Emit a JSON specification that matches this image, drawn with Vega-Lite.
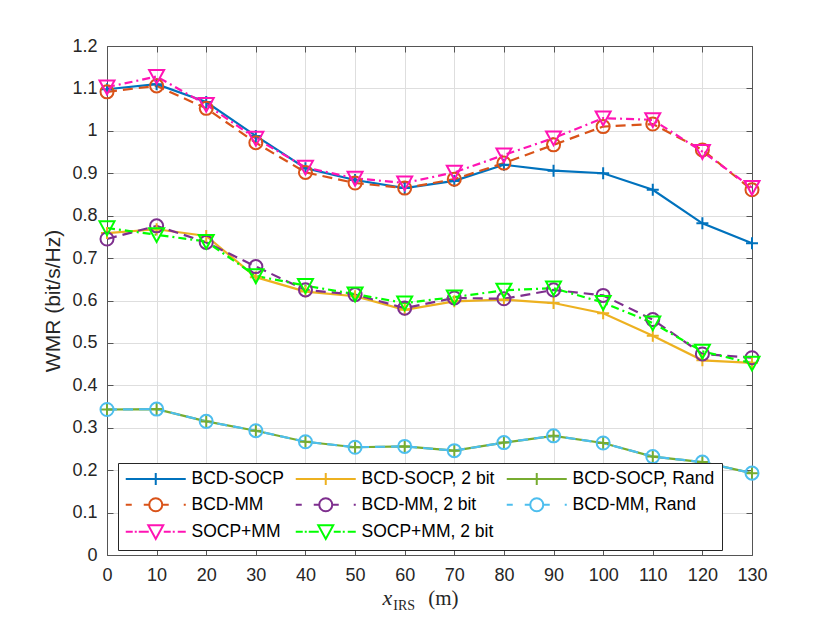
{
"$schema":"https://vega.github.io/schema/vega-lite/v6.json",
"width":645,"height":509,
"autosize":{"type":"none"},
"padding":{"left":107,"top":46,"right":78,"bottom":68},
"background":"white",
"config":{"view":{"stroke":null},"font":"Liberation Sans",
 "axis":{"labelFont":"Liberation Sans","labelFontSize":18,"labelColor":"#262626","titleFont":"Liberation Sans","titleFontWeight":"normal","titleColor":"#262626","titleFontSize":21,"domainColor":"#555555","domainWidth":1,"tickColor":"#555555","tickWidth":1,"tickSize":-6,"gridColor":"#dedede","gridWidth":1,"labelFlush":false,"labelOverlap":false}
},
"datasets":{"results":[
{"method":"BCD-SOCP","x":0,"wmr":1.098},{"method":"BCD-SOCP","x":10,"wmr":1.110},{"method":"BCD-SOCP","x":20,"wmr":1.068},{"method":"BCD-SOCP","x":30,"wmr":0.988},{"method":"BCD-SOCP","x":40,"wmr":0.912},{"method":"BCD-SOCP","x":50,"wmr":0.884},{"method":"BCD-SOCP","x":60,"wmr":0.865},{"method":"BCD-SOCP","x":70,"wmr":0.882},{"method":"BCD-SOCP","x":80,"wmr":0.920},{"method":"BCD-SOCP","x":90,"wmr":0.906},{"method":"BCD-SOCP","x":100,"wmr":0.900},{"method":"BCD-SOCP","x":110,"wmr":0.861},{"method":"BCD-SOCP","x":120,"wmr":0.782},{"method":"BCD-SOCP","x":130,"wmr":0.735},
{"method":"BCD-MM","x":0,"wmr":1.092},{"method":"BCD-MM","x":10,"wmr":1.106},{"method":"BCD-MM","x":20,"wmr":1.053},{"method":"BCD-MM","x":30,"wmr":0.972},{"method":"BCD-MM","x":40,"wmr":0.902},{"method":"BCD-MM","x":50,"wmr":0.877},{"method":"BCD-MM","x":60,"wmr":0.865},{"method":"BCD-MM","x":70,"wmr":0.886},{"method":"BCD-MM","x":80,"wmr":0.924},{"method":"BCD-MM","x":90,"wmr":0.967},{"method":"BCD-MM","x":100,"wmr":1.010},{"method":"BCD-MM","x":110,"wmr":1.016},{"method":"BCD-MM","x":120,"wmr":0.955},{"method":"BCD-MM","x":130,"wmr":0.861},
{"method":"SOCP+MM","x":0,"wmr":1.103},{"method":"SOCP+MM","x":10,"wmr":1.128},{"method":"SOCP+MM","x":20,"wmr":1.062},{"method":"SOCP+MM","x":30,"wmr":0.982},{"method":"SOCP+MM","x":40,"wmr":0.914},{"method":"SOCP+MM","x":50,"wmr":0.888},{"method":"SOCP+MM","x":60,"wmr":0.877},{"method":"SOCP+MM","x":70,"wmr":0.902},{"method":"SOCP+MM","x":80,"wmr":0.943},{"method":"SOCP+MM","x":90,"wmr":0.983},{"method":"SOCP+MM","x":100,"wmr":1.030},{"method":"SOCP+MM","x":110,"wmr":1.026},{"method":"SOCP+MM","x":120,"wmr":0.951},{"method":"SOCP+MM","x":130,"wmr":0.866},
{"method":"BCD-SOCP, 2 bit","x":0,"wmr":0.759},{"method":"BCD-SOCP, 2 bit","x":10,"wmr":0.768},{"method":"BCD-SOCP, 2 bit","x":20,"wmr":0.752},{"method":"BCD-SOCP, 2 bit","x":30,"wmr":0.655},{"method":"BCD-SOCP, 2 bit","x":40,"wmr":0.621},{"method":"BCD-SOCP, 2 bit","x":50,"wmr":0.610},{"method":"BCD-SOCP, 2 bit","x":60,"wmr":0.578},{"method":"BCD-SOCP, 2 bit","x":70,"wmr":0.598},{"method":"BCD-SOCP, 2 bit","x":80,"wmr":0.602},{"method":"BCD-SOCP, 2 bit","x":90,"wmr":0.594},{"method":"BCD-SOCP, 2 bit","x":100,"wmr":0.570},{"method":"BCD-SOCP, 2 bit","x":110,"wmr":0.517},{"method":"BCD-SOCP, 2 bit","x":120,"wmr":0.459},{"method":"BCD-SOCP, 2 bit","x":130,"wmr":0.453},
{"method":"BCD-MM, 2 bit","x":0,"wmr":0.745},{"method":"BCD-MM, 2 bit","x":10,"wmr":0.776},{"method":"BCD-MM, 2 bit","x":20,"wmr":0.737},{"method":"BCD-MM, 2 bit","x":30,"wmr":0.680},{"method":"BCD-MM, 2 bit","x":40,"wmr":0.625},{"method":"BCD-MM, 2 bit","x":50,"wmr":0.614},{"method":"BCD-MM, 2 bit","x":60,"wmr":0.582},{"method":"BCD-MM, 2 bit","x":70,"wmr":0.606},{"method":"BCD-MM, 2 bit","x":80,"wmr":0.604},{"method":"BCD-MM, 2 bit","x":90,"wmr":0.625},{"method":"BCD-MM, 2 bit","x":100,"wmr":0.612},{"method":"BCD-MM, 2 bit","x":110,"wmr":0.555},{"method":"BCD-MM, 2 bit","x":120,"wmr":0.474},{"method":"BCD-MM, 2 bit","x":130,"wmr":0.465},
{"method":"SOCP+MM, 2 bit","x":0,"wmr":0.771},{"method":"SOCP+MM, 2 bit","x":10,"wmr":0.755},{"method":"SOCP+MM, 2 bit","x":20,"wmr":0.739},{"method":"SOCP+MM, 2 bit","x":30,"wmr":0.658},{"method":"SOCP+MM, 2 bit","x":40,"wmr":0.635},{"method":"SOCP+MM, 2 bit","x":50,"wmr":0.615},{"method":"SOCP+MM, 2 bit","x":60,"wmr":0.594},{"method":"SOCP+MM, 2 bit","x":70,"wmr":0.608},{"method":"SOCP+MM, 2 bit","x":80,"wmr":0.624},{"method":"SOCP+MM, 2 bit","x":90,"wmr":0.629},{"method":"SOCP+MM, 2 bit","x":100,"wmr":0.595},{"method":"SOCP+MM, 2 bit","x":110,"wmr":0.547},{"method":"SOCP+MM, 2 bit","x":120,"wmr":0.480},{"method":"SOCP+MM, 2 bit","x":130,"wmr":0.452},
{"method":"BCD-SOCP, Rand","x":0,"wmr":0.343},{"method":"BCD-SOCP, Rand","x":10,"wmr":0.344},{"method":"BCD-SOCP, Rand","x":20,"wmr":0.315},{"method":"BCD-SOCP, Rand","x":30,"wmr":0.293},{"method":"BCD-SOCP, Rand","x":40,"wmr":0.267},{"method":"BCD-SOCP, Rand","x":50,"wmr":0.254},{"method":"BCD-SOCP, Rand","x":60,"wmr":0.256},{"method":"BCD-SOCP, Rand","x":70,"wmr":0.246},{"method":"BCD-SOCP, Rand","x":80,"wmr":0.265},{"method":"BCD-SOCP, Rand","x":90,"wmr":0.281},{"method":"BCD-SOCP, Rand","x":100,"wmr":0.264},{"method":"BCD-SOCP, Rand","x":110,"wmr":0.232},{"method":"BCD-SOCP, Rand","x":120,"wmr":0.219},{"method":"BCD-SOCP, Rand","x":130,"wmr":0.193},
{"method":"BCD-MM, Rand","x":0,"wmr":0.343},{"method":"BCD-MM, Rand","x":10,"wmr":0.344},{"method":"BCD-MM, Rand","x":20,"wmr":0.315},{"method":"BCD-MM, Rand","x":30,"wmr":0.293},{"method":"BCD-MM, Rand","x":40,"wmr":0.267},{"method":"BCD-MM, Rand","x":50,"wmr":0.254},{"method":"BCD-MM, Rand","x":60,"wmr":0.256},{"method":"BCD-MM, Rand","x":70,"wmr":0.246},{"method":"BCD-MM, Rand","x":80,"wmr":0.265},{"method":"BCD-MM, Rand","x":90,"wmr":0.281},{"method":"BCD-MM, Rand","x":100,"wmr":0.264},{"method":"BCD-MM, Rand","x":110,"wmr":0.232},{"method":"BCD-MM, Rand","x":120,"wmr":0.219},{"method":"BCD-MM, Rand","x":130,"wmr":0.193}
]},
"layer":[
 {"data":{"name":"results"},
  "transform":[{"filter":{"field":"method","oneOf":["BCD-SOCP","BCD-SOCP, 2 bit","BCD-SOCP, Rand"]}}],
  "mark":{"type":"line","strokeWidth":2.2},
  "encoding":{
   "x":{"field":"x","type":"quantitative","scale":{"domain":[0,130],"nice":false},"axis":{"orient":"bottom","values":[0,10,20,30,40,50,60,70,80,90,100,110,120,130],"grid":true,"title":null,"format":"d","labelPadding":17}},
   "y":{"field":"wmr","type":"quantitative","scale":{"domain":[0,1.2],"nice":false,"zero":true},"axis":{"orient":"left","values":[0,0.1,0.2,0.3,0.4,0.5,0.6,0.7,0.8,0.9,1,1.1,1.2],"grid":true,"title":"WMR (bit/s/Hz)","format":"~g","labelPadding":16,"titleX":-44,"titleY":254.5,"titleAngle":270,"titleAlign":"center","titleBaseline":"bottom"}},
   "color":{"field":"method","type":"nominal",
     "scale":{"domain":["BCD-SOCP","BCD-MM","SOCP+MM","BCD-SOCP, 2 bit","BCD-MM, 2 bit","SOCP+MM, 2 bit","BCD-SOCP, Rand","BCD-MM, Rand"],
              "range":["#0072BD","#D95319","#FF14B4","#EDB120","#7E2F8E","#00FF00","#77AC30","#4DBEEE"]},
     "legend":{"title":null,"orient":"none","legendX":11,"legendY":417,"columns":3,"labelFont":"Liberation Sans","labelFontSize":17.5,"labelColor":"#000000","labelLimit":0,"symbolLimit":0,"symbolSize":144,"symbolStrokeWidth":2,"labelOffset":49,"columnPadding":7,"rowPadding":5,"padding":7,"strokeColor":"#262626","fillColor":"#ffffff",
       "encode":{"symbols":{"update":{
         "shape":{"signal":"indexof(['BCD-SOCP','BCD-SOCP, 2 bit','BCD-SOCP, Rand'], datum.value) >= 0 ? 'M-1.333,0H8.667M3.667,-1V1' : (indexof(['BCD-MM','BCD-MM, 2 bit','BCD-MM, Rand'], datum.value) >= 0 ? 'M-1.333,0H-0.333M1.667,0H2.583M4.75,0H5.833M8.333,0H8.667M4.75,0C4.75,0.598 4.265,1.083 3.667,1.083C3.069,1.083 2.583,0.598 2.583,0C2.583,-0.598 3.069,-1.083 3.667,-1.083C4.265,-1.083 4.75,-0.598 4.75,0Z' : 'M-1.333,0H-0.167M0.167,0H0.5M0.833,0H2.5M5,0H6.167M6.5,0H6.833M7.333,0H8.667M2.417,-1.1L4.917,-1.1L3.667,1.2Z')"},
         "fill":{"value":"transparent"},
         "strokeDash":{"value":[]}
       }}}}}
  }},
 {"data":{"name":"results"},
  "transform":[{"filter":{"field":"method","oneOf":["BCD-MM","BCD-MM, 2 bit","BCD-MM, Rand"]}}],
  "mark":{"type":"line","strokeWidth":2.2,"strokeDash":[10,6]},
  "encoding":{
   "x":{"field":"x","type":"quantitative","scale":{"domain":[0,130],"nice":false},"axis":null},
   "y":{"field":"wmr","type":"quantitative","scale":{"domain":[0,1.2],"nice":false},"axis":null},
   "color":{"field":"method","type":"nominal","legend":null}
  }},
 {"data":{"name":"results"},
  "transform":[{"filter":{"field":"method","oneOf":["SOCP+MM","SOCP+MM, 2 bit"]}}],
  "mark":{"type":"line","strokeWidth":2.2,"strokeDash":[8,4,2,4]},
  "encoding":{
   "x":{"field":"x","type":"quantitative","scale":{"domain":[0,130],"nice":false},"axis":null},
   "y":{"field":"wmr","type":"quantitative","scale":{"domain":[0,1.2],"nice":false},"axis":null},
   "color":{"field":"method","type":"nominal","legend":null}
  }},
 {"data":{"name":"results"},
  "transform":[{"filter":{"field":"method","oneOf":["BCD-SOCP","BCD-SOCP, 2 bit","BCD-SOCP, Rand"]}}],
  "mark":{"type":"point","filled":false,"strokeWidth":2,"size":144,"opacity":1,"shape":"M-1,0H1M0,-1V1"},
  "encoding":{
   "x":{"field":"x","type":"quantitative","scale":{"domain":[0,130],"nice":false},"axis":{"orient":"top","values":[0,10,20,30,40,50,60,70,80,90,100,110,120,130],"grid":false,"labels":false,"title":null}},
   "y":{"field":"wmr","type":"quantitative","scale":{"domain":[0,1.2],"nice":false,"zero":true},"axis":{"orient":"right","values":[0,0.1,0.2,0.3,0.4,0.5,0.6,0.7,0.8,0.9,1,1.1,1.2],"grid":false,"labels":false,"title":null}},
   "color":{"field":"method","type":"nominal","legend":null}
  }},
 {"data":{"name":"results"},
  "transform":[{"filter":{"field":"method","oneOf":["BCD-MM","BCD-MM, 2 bit","BCD-MM, Rand"]}}],
  "mark":{"type":"point","filled":false,"strokeWidth":2,"size":170,"opacity":1,"shape":"circle"},
  "encoding":{
   "x":{"field":"x","type":"quantitative","scale":{"domain":[0,130],"nice":false},"axis":null},
   "y":{"field":"wmr","type":"quantitative","scale":{"domain":[0,1.2],"nice":false},"axis":null},
   "color":{"field":"method","type":"nominal","legend":null}
  }},
 {"data":{"name":"results"},
  "transform":[{"filter":{"field":"method","oneOf":["SOCP+MM","SOCP+MM, 2 bit"]}}],
  "mark":{"type":"point","filled":false,"strokeWidth":2,"size":144,"opacity":1,"shape":"M-1.25,-1.1L1.25,-1.1L0,1.2Z"},
  "encoding":{
   "x":{"field":"x","type":"quantitative","scale":{"domain":[0,130],"nice":false},"axis":null},
   "y":{"field":"wmr","type":"quantitative","scale":{"domain":[0,1.2],"nice":false},"axis":null},
   "color":{"field":"method","type":"nominal","legend":null}
  }},
 {"data":{"values":[{}]},
  "mark":{"type":"text","text":"x","font":"Liberation Serif","fontStyle":"italic","fontSize":22,"align":"center","baseline":"alphabetic","color":"#262626"},
  "encoding":{"x":{"datum":56.5,"type":"quantitative","scale":{"domain":[0,130],"nice":false},"axis":null},"y":{"datum":-0.117,"type":"quantitative","scale":{"domain":[0,1.2],"nice":false},"axis":null}}},
 {"data":{"values":[{}]},
  "mark":{"type":"text","text":"IRS","font":"Liberation Serif","fontSize":14,"align":"center","baseline":"alphabetic","color":"#262626"},
  "encoding":{"x":{"datum":59.9,"type":"quantitative","scale":{"domain":[0,130],"nice":false},"axis":null},"y":{"datum":-0.129,"type":"quantitative","scale":{"domain":[0,1.2],"nice":false},"axis":null}}},
 {"data":{"values":[{}]},
  "mark":{"type":"text","text":"(m)","font":"Liberation Serif","fontSize":21,"align":"center","baseline":"alphabetic","color":"#262626"},
  "encoding":{"x":{"datum":67.8,"type":"quantitative","scale":{"domain":[0,130],"nice":false},"axis":null},"y":{"datum":-0.117,"type":"quantitative","scale":{"domain":[0,1.2],"nice":false},"axis":null}}}
],
"resolve":{"axis":{"x":"independent","y":"independent"}}
}
